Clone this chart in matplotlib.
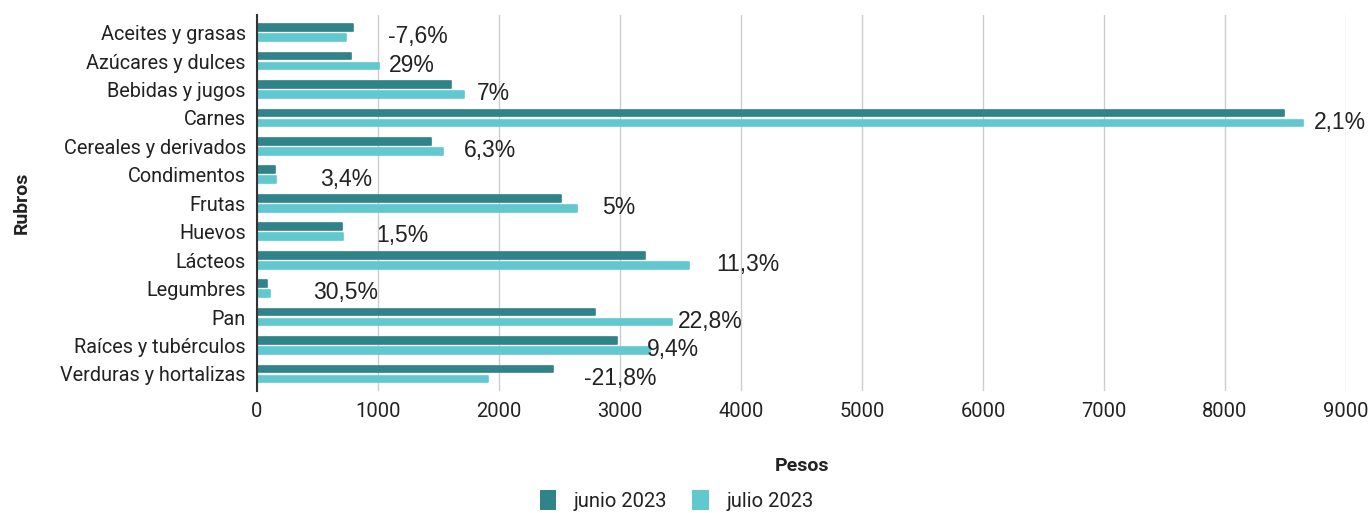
import matplotlib
matplotlib.use("Agg")
import matplotlib.pyplot as plt
import numpy as np
from matplotlib.patches import Patch

categories = ["Aceites y grasas", "Azúcares y dulces", "Bebidas y jugos", "Carnes",
              "Cereales y derivados", "Condimentos", "Frutas", "Huevos", "Lácteos",
              "Legumbres", "Pan", "Raíces y tubérculos", "Verduras y hortalizas"]
junio = [790, 775, 1603, 8486, 1438, 150, 2515, 702, 3209, 80, 2793, 2973, 2446]
julio = [735, 1008, 1711, 8648, 1535, 155, 2642, 712, 3568, 107, 3430, 3248, 1907]
variacion = ["-7,6%", "29%", "7%", "2,1%", "6,3%", "3,4%", "5%", "1,5%", "11,3%",
             "30,5%", "22,8%", "9,4%", "-21,8%"]
label_x = [1330, 1278, 1950, 8950, 1926, 733, 2992, 1198, 4058, 733, 3744, 3435, 3000]
xticks = [0, 1000, 2000, 3000, 4000, 5000, 6000, 7000, 8000, 9000]

c_jun = "#2F8389"
c_jul = "#62C8D0"

fig = plt.figure(figsize=(13.7, 5.13), dpi=100)
ax = fig.add_axes([0.1876, 0.2378, 0.9825 - 0.1876, 0.9708 - 0.2378])

y = np.arange(len(categories))
h = 0.24
ax.barh(y - 0.176, junio, height=h, color=c_jun, edgecolor=c_jun, linewidth=1.2,
        joinstyle="round", zorder=3)
ax.barh(y + 0.176, julio, height=h, color=c_jul, edgecolor=c_jul, linewidth=1.2,
        joinstyle="round", zorder=3)

for yi, lx, txt in zip(y, label_x, variacion):
    ax.text(lx, yi + 0.15, txt, ha="center", va="center", fontsize=16.5,
            family="Liberation Sans", color="#222222", zorder=4)

ax.set_xlim(0, 9000)
ax.set_ylim(len(categories) - 0.4, -0.62)
ax.set_xticks(xticks)
ax.set_xticklabels([str(t) for t in xticks], family="Roboto", fontsize=14.5, color="#222222")
ax.set_yticks(y)
ax.set_yticklabels(categories, family="Roboto", fontsize=14.3, color="#222222")
ax.tick_params(axis="x", length=0, pad=8)
ax.tick_params(axis="y", length=0, pad=8)

ax.grid(axis="x", color="#cccccc", linewidth=1, zorder=0)
ax.set_axisbelow(True)
for s in ["top", "right", "bottom"]:
    ax.spines[s].set_visible(False)
ax.spines["left"].set_color("#333333")
ax.spines["left"].set_linewidth(1.5)
ax.spines["left"].set_zorder(5)

ax.set_xlabel("Pesos", family="Roboto", fontsize=14, fontweight="bold", color="#222222")
ax.xaxis.set_label_coords(0.5, -0.175)
ax.set_ylabel("Rubros", family="Roboto", fontsize=14, fontweight="bold", color="#222222")
ax.yaxis.set_label_coords(-0.208, 0.5)

handles = [Patch(facecolor=c_jun, label="junio 2023"), Patch(facecolor=c_jul, label="julio 2023")]
fig.legend(handles=handles, loc="center", bbox_to_anchor=(0.494, 0.024), ncol=2, frameon=False,
           prop={"family": "Roboto", "size": 14.5}, handlelength=0.8, handleheight=1.1,
           columnspacing=1.25, handletextpad=0.9, labelcolor="#222222")

fig.savefig("out.png", dpi=100)
